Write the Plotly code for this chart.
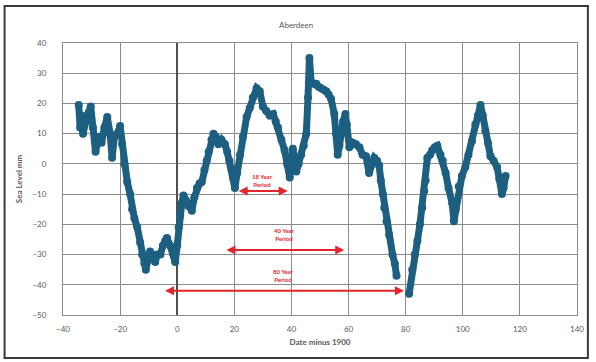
import plotly.graph_objects as go

# Data (years relative to 1900, sea level in mm)
years = [-34.5, -34, -33.5, -33, -32, -31, -30.3, -29.5, -28.6, -27.5, -26.5, -25.5, -24.5, -23.5,
         -22.8, -22, -21, -20, -19.3, -18.5, -17.5, -16.5, -15.8, -15, -14, -13, -12.3, -11.5,
         -11, -10.3, -9.5, -8.7, -7.7, -7, -5.9, -5, -4.2, -3.6, -2.5, -1.3, -0.7, 0, 0.5, 1,
         1.6, 2.2, 3, 4, 5.1, 6, 6.9, 7.8, 8.6, 9.5, 10.3, 11, 12, 12.7, 13.5, 14.4, 15.5, 16.7,
         17.5, 18.3, 19, 19.7, 20.2, 21, 22, 23, 24.3, 25.4, 26.5, 27.8, 28.9, 30, 31.2, 32.4,
         33.6, 34.5, 35.3, 36.5, 37.6, 38.5, 39.4, 40.5, 41.7, 42.5, 43.4, 44.3, 45.2, 45.8,
         46.3, 46.9, 47.8, 48.7, 49.5, 50.4, 51.3, 52.2, 53, 53.9, 55, 55.6, 56.2, 56.8, 57.3,
         58.1, 58.9, 59.4, 60.3, 61.5, 62.6, 63.8, 64.9, 66.1, 67.2, 68, 69, 70, 70.7, 71.3,
         72, 72.5, 73.3, 74.2, 75.4, 76.2, 76.8, 79, 81.2, 82.3, 83.2, 84.1, 85, 85.8, 86.5,
         87, 87.6, 88.5, 89.3, 90.2, 91.1, 92.2, 93, 94, 95, 96.3, 96.9, 97.5, 98.6, 99.7,
         100.9, 102, 103.2, 104.4, 105.3, 106.2, 107, 107.9, 108.8, 109.7, 110.8, 112, 112.8,
         113.7, 114.3, 115]
sea_level = [19.5, 12, 16, 10, 14, 17, 19, 12, 4, 9, 7, 12, 15.5, 10,
             2, 9, 10, 12.5, 6.5, 0, -6, -10, -15, -18, -21, -26, -30, -33,
             -35, -32, -29, -31, -32.5, -30, -30, -27, -25.5, -24.5, -27, -30, -32.5, -27, -21, -17,
             -13, -10.5, -12, -14, -15.5, -11, -8, -6.5, -6, -2, 1, 4, 8, 10, 9, 6.5, 8, 6.5,
             4, 1, -1.5, -5, -8, -3, 3, 9, 15.5, 18.5, 22, 25, 24, 19, 17.5, 16,
             16.5, 14, 12, 8, 4.5, 0, -4.5, 5, -2.5, 0, 3, 6, 10, 22,
             35, 27, 26.5, 26.5, 25.5, 25, 24.5, 24, 23, 21.5, 16.5, 10, 3, 6, 10,
             14, 16.5, 13, 5.5, 7, 6.5, 5.5, 3, 2.5, -3, 0, 2, 1, -0.5, -5.5,
             -10, -14.5, -19, -23.5, -30, -33, -37, None, -43, -35, -30, -25.5, -20, -14.5, -9,
             -5.5, 2, 3, 4.5, 5.5, 6, 3, 1, -3, -8, -13, -19, -15, -7.5, -4,
             -1, 3, 7.5, 13, 16, 19.5, 16, 11, 7, 2.5, 1, -1, -5,
             -10, -8, -4]

x_ticks = [-40, -20, 0, 20, 40, 60, 80, 100, 120, 140]
y_ticks = [40, 30, 20, 10, 0, -10, -20, -30, -40, -50]

# Period arrows: (label, start year, end year, level)
period_labels = ["18 Year<br>Period", "40 Year<br>Period", "80 Year<br>Period"]
period_start = [21, 16.7, -4.8]
period_end = [38.7, 58.5, 79.4]
period_level = [-9, -28.5, -42]
label_level = [-5.5, -23.5, -37]

blue = "#1d5f80"
red = "#e3262b"
grey_txt = "#595959"
font_family = "Lato, 'Open Sans', sans-serif"

fig = go.Figure()
fig.add_trace(go.Scatter(
    x=years, y=sea_level, mode="lines+markers",
    line=dict(color=blue, width=7),
    marker=dict(color=blue, size=8),
    connectgaps=False, showlegend=False, hoverinfo="skip"))

for lab, s, e, lv, tl in zip(period_labels, period_start, period_end, period_level, label_level):
    fig.add_annotation(x=e, y=lv, ax=s, ay=lv, xref="x", yref="y", axref="x", ayref="y",
                       text="", showarrow=True, arrowhead=2, arrowside="end+start",
                       arrowsize=0.9, arrowwidth=2, arrowcolor=red)
    fig.add_annotation(x=(s + e) / 2, y=tl, xref="x", yref="y", text="<b>" + lab + "</b>",
                       showarrow=False, font=dict(size=6, color=red, family=font_family))

# Title
fig.add_annotation(x=(298 - 63) / 519, y=(315 - 18) / 272, xref="paper", yref="paper",
                   text="Aberdeen", showarrow=False,
                   font=dict(size=8, color=grey_txt, family=font_family))

# Outer chart border
fig.add_shape(type="rect", xref="paper", yref="paper",
              x0=(4 - 63) / 519, x1=(593 - 63) / 519,
              y0=(315 - 358) / 272, y1=(315 - 6) / 272,
              line=dict(color="#3a3a3a", width=2), fillcolor="rgba(0,0,0,0)")

fig.update_layout(
    width=596, height=362,
    margin=dict(l=63, r=14, t=43, b=47),
    paper_bgcolor="white", plot_bgcolor="white",
    font=dict(family=font_family, size=8, color=grey_txt),
    xaxis=dict(range=[-40, 140], tickvals=x_ticks, showgrid=True, gridcolor="#8c8c8c",
               gridwidth=1, zeroline=True, zerolinecolor="#505050", zerolinewidth=2,
               showline=True, linecolor="#8c8c8c", linewidth=1, mirror=True,
               ticks="", ticklabelstandoff=6,
               title=dict(text="<b>Date minus 1900</b>", standoff=6,
                          font=dict(size=8, color=grey_txt))),
    yaxis=dict(range=[-50, 40], tickvals=y_ticks, showgrid=True, gridcolor="#8c8c8c",
               gridwidth=1, zeroline=False,
               showline=True, linecolor="#8c8c8c", linewidth=1, mirror=True,
               ticks="", ticklabelstandoff=14,
               title=dict(text="<b>Sea Level mm</b>", standoff=8,
                          font=dict(size=8, color=grey_txt))),
)
fig.update_xaxes(tickfont=dict(size=8, color=grey_txt))
fig.update_yaxes(tickfont=dict(size=8, color=grey_txt))

fig.write_html("out.html")
